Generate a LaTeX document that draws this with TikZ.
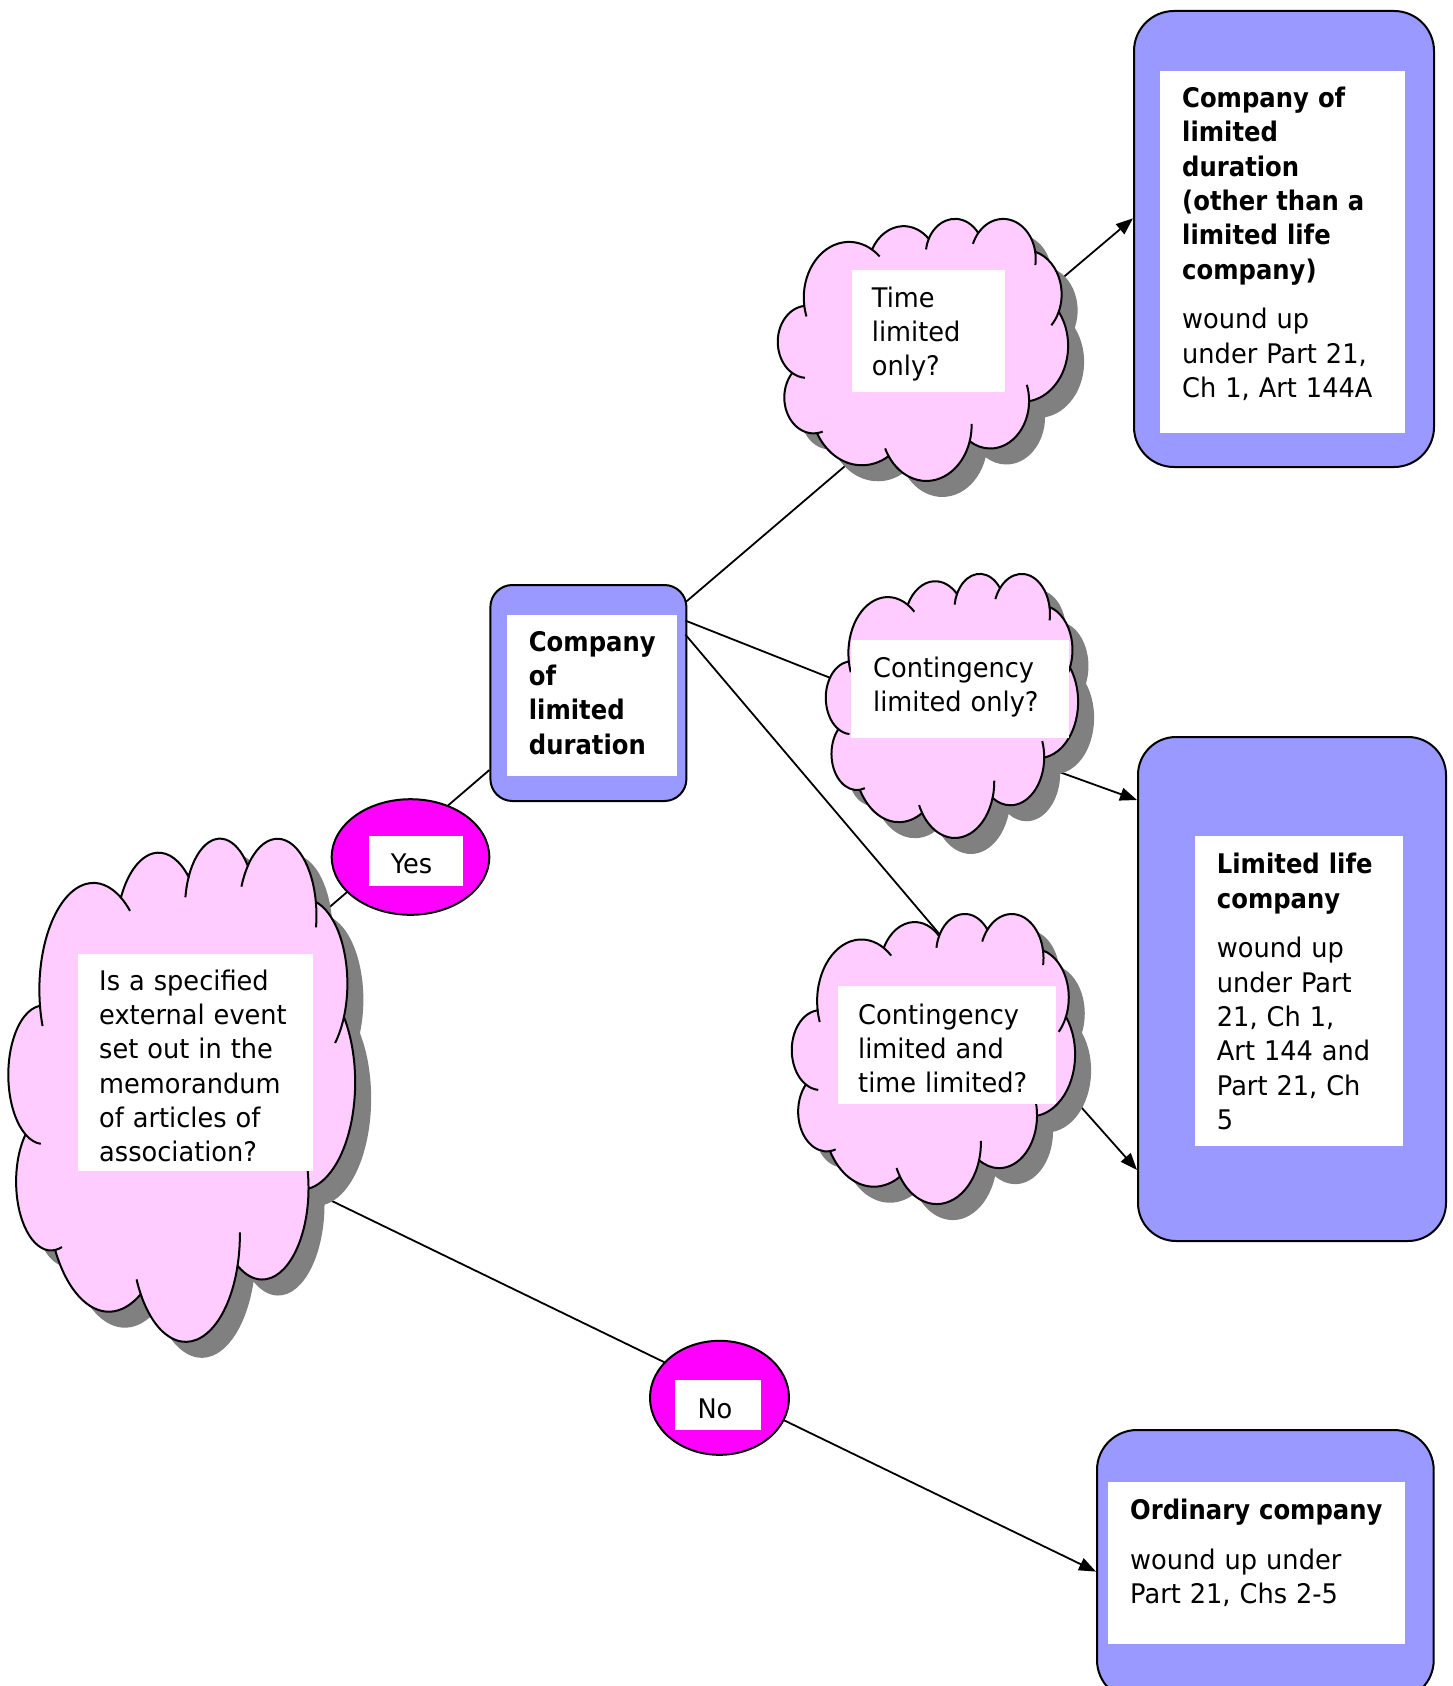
\documentclass[tikz,border=0pt]{standalone}
\usepackage{fontspec}
\setmainfont{DejaVu Sans}[FakeStretch=0.95]
\newfontfamily\bfont{DejaVu Sans}[FakeStretch=0.90]
\usetikzlibrary{shapes.geometric,arrows.meta}
\definecolor{cloudpink}{HTML}{FFCCFF}
\definecolor{boxblue}{HTML}{9999FF}
\definecolor{ovalmag}{HTML}{FF00FF}
\definecolor{shadecol}{HTML}{808080}
\newcommand\bttxt[1]{{\bfont\bfseries #1}}
% arc parameters of the cloud outline (visual angles -> parametric)
\newcommand\mkarc[5]{%
  \pgfmathsetmacro\tmpa{atan2((#2)*sin(#4),(#3)*cos(#4))}%
  \pgfmathsetmacro\tmpb{atan2((#2)*sin((#4)+(#5)),(#3)*cos((#4)+(#5)))}%
  \pgfmathsetmacro\tmpd{mod(\tmpb-\tmpa+720,360)}%
  \pgfmathsetmacro\tmpe{\tmpa+\tmpd}%
  \expandafter\xdef\csname ca#1\endcsname{\tmpa}%
  \expandafter\xdef\csname cd#1\endcsname{\tmpd}%
  \expandafter\xdef\csname ce#1\endcsname{\tmpe}}
\mkarc{A}{67.53}{91.90}{-190.4875}{123.7805}
\mkarc{B}{53.33}{72.67}{-144.1024}{89.9452}
\mkarc{C}{43.65}{59.45}{-145.8079}{99.7230}
\mkarc{D}{48.57}{65.95}{-130.9861}{117.2417}
\mkarc{E}{53.33}{72.73}{-78.7089}{109.0269}
\mkarc{F}{67.75}{92.20}{-46.2673}{130.2690}
\mkarc{G}{57.85}{78.67}{0.6250}{114.0333}
\mkarc{H}{67.52}{92.15}{22.4516}{115.1726}
\mkarc{I}{77.20}{105.43}{66.2426}{75.7110}
\mkarc{J}{43.60}{59.18}{-274.9421}{146.7356}
\mkarc{K}{43.45}{59.45}{-246.8285}{152.5189}
\def\cloudpath{(39.00,143.70) coordinate (K0)
 arc[start angle=\caA, delta angle=\cdA, x radius=67.53, y radius=91.90] coordinate (K1)
 arc[start angle=\caB, delta angle=\cdB, x radius=53.33, y radius=72.67] coordinate (K2)
 arc[start angle=\caC, delta angle=\cdC, x radius=43.65, y radius=59.45] coordinate (K3)
 arc[start angle=\caD, delta angle=\cdD, x radius=48.57, y radius=65.95] coordinate (K4)
 arc[start angle=\caE, delta angle=\cdE, x radius=53.33, y radius=72.73] coordinate (K5)
 arc[start angle=\caF, delta angle=\cdF, x radius=67.75, y radius=92.20] coordinate (K6)
 arc[start angle=\caG, delta angle=\cdG, x radius=57.85, y radius=78.67] coordinate (K7)
 arc[start angle=\caH, delta angle=\cdH, x radius=67.52, y radius=92.15] coordinate (K8)
 arc[start angle=\caI, delta angle=\cdI, x radius=77.20, y radius=105.43] coordinate (K9)
 arc[start angle=\caJ, delta angle=\cdJ, x radius=43.60, y radius=59.18] coordinate (K10)
 arc[start angle=\caK, delta angle=\cdK, x radius=43.45, y radius=59.45] -- cycle}
\def\cloudhooks{
 (K10) arc[start angle=\caK, delta angle=-26.43, x radius=43.45, y radius=59.45]
 (K9) arc[start angle=\caJ, delta angle=-11.5, x radius=43.60, y radius=59.18]
 (K8) arc[start angle=\ceH, delta angle=9.07, x radius=67.52, y radius=92.15]
 (K7) arc[start angle=\caH, delta angle=-18, x radius=67.52, y radius=92.15]
 (K6) arc[start angle=\caG, delta angle=-20, x radius=57.85, y radius=78.67]
 (K5) arc[start angle=\ceE, delta angle=21.33, x radius=53.33, y radius=72.73]
 (K4) arc[start angle=\ceD, delta angle=19.06, x radius=48.57, y radius=65.95]
 (K3) arc[start angle=\caD, delta angle=-18.2, x radius=48.57, y radius=65.95]
 (K2) arc[start angle=\caC, delta angle=-17.7, x radius=43.65, y radius=59.45]
 (K1) arc[start angle=\ceA, delta angle=12, x radius=67.53, y radius=91.90]
 (K0) arc[start angle=\caA, delta angle=-12, x radius=67.53, y radius=91.90]}
\newcommand\pptcloud[4]{%
  \pgfmathsetmacro\cux{(#3)/432}%
  \pgfmathsetmacro\cuy{(#4)/432}%
  \begin{scope}[shift={(#1+16,#2+16)}, x=\cux pt, y=-\cuy pt]
    \fill[shadecol] \cloudpath;
  \end{scope}
  \begin{scope}[shift={(#1,#2)}, x=\cux pt, y=-\cuy pt]
    \filldraw[cloudline, fill=cloudpink] \cloudpath;
    \draw[cloudline] \cloudhooks;
  \end{scope}}
\begin{document}
\begin{tikzpicture}[x=1pt,y=-1pt,
  cloudline/.style={draw=black, line width=2pt, line join=round},
  bluebox/.style={rectangle, draw=black, line width=2pt, fill=boxblue, inner sep=0pt, anchor=north west},
  wbox/.style={rectangle, fill=white, draw=none, inner sep=0pt, anchor=north west},
  oval/.style={ellipse, draw=black, line width=2pt, fill=ovalmag, inner sep=0pt},
  txt/.style={anchor=north west, inner sep=0pt, text width=330pt, align=left,
    font=\fontsize{27}{34.3}\selectfont},
  conn/.style={draw=black, line width=1.8pt},
  arr/.style={conn, -{Triangle[length=17pt,width=13pt]}}]
\useasboundingbox (0,0) rectangle (1452,1686);
\clip (0,0) rectangle (1452,1686);
\fill[white] (0,0) rectangle (1452,1686);

% result boxes
\node[bluebox, rounded corners=40pt, minimum width=300pt, minimum height=456pt] (A) at (1133,10) {};
\node[wbox, minimum width=245pt, minimum height=362pt] (Aw) at (1160,71) {};
\node[txt] (At) at (1182,83.3) {\strut\bttxt{Company of}\\\bttxt{limited}\\\bttxt{duration}\\\bttxt{(other than a}\\\bttxt{limited life}\\\bttxt{company)}\\[15.5pt]wound up\\under Part 21,\\Ch 1, Art 144A};

\node[bluebox, rounded corners=22pt, minimum width=196pt, minimum height=216pt] (M) at (489.4,584) {};
\node[wbox, minimum width=170pt, minimum height=161.4pt] (Mw) at (507,614.3) {};
\node[txt] (Mt) at (528.7,627) {\strut\bttxt{Company}\\\bttxt{of}\\\bttxt{limited}\\\bttxt{duration}};

\node[bluebox, rounded corners=38pt, minimum width=308pt, minimum height=504pt] (L) at (1137,736) {};
\node[wbox, minimum width=208pt, minimum height=310pt] (Lw) at (1195,836) {};
\node[txt] (Lt) at (1216.7,849.6) {\strut\bttxt{Limited life}\\\bttxt{company}\\[15.5pt]wound up\\under Part\\21, Ch 1,\\Art 144 and\\Part 21, Ch\\5};

\node[bluebox, rounded corners=40pt, minimum width=336.7pt, minimum height=270pt] (O) at (1096,1429) {};
\node[wbox, minimum width=297pt, minimum height=162.3pt] (Ow) at (1108,1481.7) {};
\node[txt] (Ot) at (1130,1495) {\strut\bttxt{Ordinary company}\\[15.5pt]wound up under\\Part 21, Chs 2-5};

% connector end points
\coordinate (bY) at (295,936.7);
\coordinate (mY) at (489.4,770);
\coordinate (mT) at (685.4,602.3);
\coordinate (tM) at (870,444.7);
\coordinate (mC) at (685.4,620.6);
\coordinate (cM) at (850,685.7);
\coordinate (mD) at (685.4,634.6);
\coordinate (dM) at (950,946.5);
\coordinate (tA) at (1040,297);
\coordinate (aT) at (1133,218.3);
\coordinate (cL) at (1040,765);
\coordinate (lC) at (1137,800);
\coordinate (dL) at (1050,1072);
\coordinate (lD) at (1137,1170);
\coordinate (bN) at (300,1185.5);
\coordinate (oN) at (1096,1571.6);

\draw[conn] (bY) -- (mY);
\draw[conn] (mT) -- (tM);
\draw[conn] (mC) -- (cM);
\draw[conn] (mD) -- (dM);
\draw[arr] (tA) -- (aT);
\draw[arr] (cL) -- (lC);
\draw[arr] (dL) -- (lD);
\draw[arr] (bN) -- (oN);

% clouds
\pptcloud{8.6}{837}{346.4}{503}
\pptcloud{778}{218}{290}{262}
\pptcloud{826}{573}{252}{264}
\pptcloud{792}{913}{283}{290}

\node[wbox, minimum width=234.7pt, minimum height=216.7pt] (Bw) at (78,954) {};
\node[txt] (Bt) at (99,966) {\strut Is a specified\\external event\\set out in the\\memorandum\\of articles of\\association?};
\node[wbox, minimum width=153pt, minimum height=122pt] (Tw) at (852,270) {};
\node[txt] (Tt) at (871.7,283) {\strut Time\\limited\\only?};
\node[wbox, minimum width=218.3pt, minimum height=97.7pt] (Cw) at (850.7,640) {};
\node[txt] (Ct) at (873,653) {\strut Contingency\\limited only?};
\node[wbox, minimum width=218.3pt, minimum height=118pt] (Dw) at (837.7,986) {};
\node[txt] (Dt) at (858,1000) {\strut Contingency\\limited and\\time limited?};

% yes / no ovals
\node[oval, minimum width=157.6pt, minimum height=115.6pt] (Yes) at (410.5,857) {};
\node[wbox, minimum width=93.7pt, minimum height=49.3pt] (Yw) at (369,836) {};
\node[txt] (Yt) at (390.7,849.3) {\strut Yes};
\node[oval, minimum width=139pt, minimum height=114pt] (No) at (719.5,1397.8) {};
\node[wbox, minimum width=86pt, minimum height=50pt] (Nw) at (675,1380) {};
\node[txt] (Nt) at (697.3,1394.3) {\strut No};
\end{tikzpicture}
\end{document}
